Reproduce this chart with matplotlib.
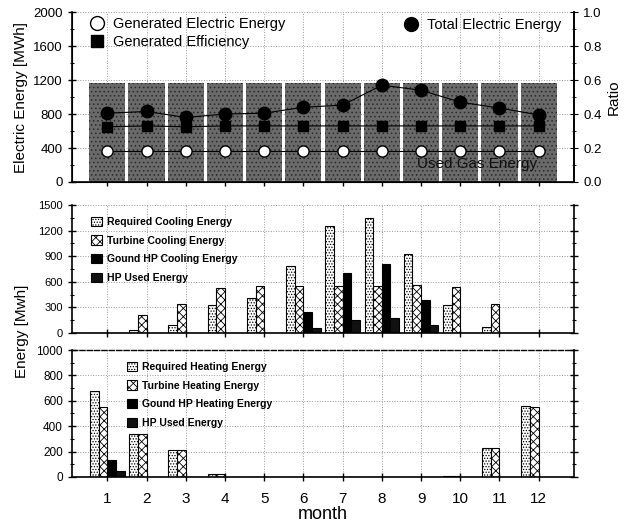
import numpy as np
import matplotlib
matplotlib.use("Agg")
import matplotlib.pyplot as plt
from matplotlib.ticker import MultipleLocator
from matplotlib.lines import Line2D

plt.rcParams["font.family"] = ["Liberation Sans", "DejaVu Sans"]
plt.rcParams["hatch.linewidth"] = 0.6

# Data
months = np.arange(1, 13)
month_labels = [str(m) for m in months]

used_gas = [1160, 1160, 1160, 1160, 1160, 1160, 1160, 1160, 1160, 1160, 1160, 1160]
gen_elec = [365, 365, 365, 365, 365, 365, 365, 365, 365, 365, 365, 365]
gen_eff = [0.325, 0.33, 0.325, 0.33, 0.33, 0.33, 0.33, 0.33, 0.33, 0.33, 0.33, 0.33]
total_elec = [810, 830, 760, 800, 810, 880, 905, 1140, 1080, 940, 870, 790]

req_cool = [5, 30, 90, 330, 410, 790, 1250, 1350, 930, 330, 70, 5]
turb_cool = [5, 210, 345, 530, 550, 550, 550, 550, 560, 540, 345, 5]
ghp_cool = [0, 0, 0, 0, 0, 250, 700, 810, 390, 0, 0, 0]
hp_cool = [0, 0, 0, 0, 0, 60, 150, 180, 90, 0, 0, 0]

req_heat = [680, 335, 210, 25, 0, 0, 0, 0, 0, 5, 230, 560]
turb_heat = [555, 335, 210, 25, 0, 0, 0, 0, 0, 5, 230, 555]
ghp_heat = [130, 0, 0, 0, 0, 0, 0, 0, 0, 0, 0, 0]
hp_heat = [50, 0, 0, 0, 0, 0, 0, 0, 0, 0, 0, 0]

fig = plt.figure(figsize=(6.41, 5.26), dpi=100)
ax1 = fig.add_axes([0.1123, 0.654, 0.7832, 0.323])
ax2 = fig.add_axes([0.1123, 0.367, 0.7832, 0.2433])
ax3 = fig.add_axes([0.1123, 0.0932, 0.7832, 0.2414])


def style_axis(ax, ymax, major, minor):
    ax.set_xlim(0.1, 12.9)
    ax.set_ylim(0, ymax)
    ax.set_xticks(months)
    ax.yaxis.set_major_locator(MultipleLocator(major))
    ax.yaxis.set_minor_locator(MultipleLocator(minor))
    ax.tick_params(axis="both", which="major", direction="inout", length=6, width=1)
    ax.tick_params(axis="y", which="minor", direction="inout", length=3, width=0.8)
    ax.tick_params(axis="y", right=True, which="both")
    ax.grid(True, which="major", linestyle=":", color="#9a9a9a", linewidth=0.7)
    ax.spines["top"].set_visible(False)
    for s in ["left", "right", "bottom"]:
        ax.spines[s].set_linewidth(1.2)
    ax.set_axisbelow(True)


# Top panel
style_axis(ax1, 2000, 400, 200)
ax1.tick_params(axis="x", labelbottom=False)
ax1.tick_params(axis="y", labelsize=9.5, right=False)
ax1.bar(months, used_gas, width=0.92, color="#6a6a6a", edgecolor="#2a2a2a",
        hatch="....", linewidth=0, zorder=2)
ax1.plot(months, total_elec, "-", color="black", linewidth=0.8,
         marker="o", markersize=9, markerfacecolor="black", zorder=4)
ax1.plot(months, gen_elec, "-", color="black", linewidth=0.8,
         marker="o", markersize=8, markerfacecolor="white",
         markeredgecolor="black", zorder=4)
ax1.set_ylabel("Electric Energy [MWh]", fontsize=11)
ax1.text(11.95, 215, "Used Gas Energy", ha="right", va="center",
         fontsize=11, color="#111111", zorder=5)

ax1r = ax1.twinx()
ax1r.set_ylim(0, 1.0)
ax1r.set_xlim(0.1, 12.9)
ax1r.yaxis.set_major_locator(MultipleLocator(0.2))
ax1r.yaxis.set_minor_locator(MultipleLocator(0.1))
ax1r.yaxis.set_major_formatter(plt.FormatStrFormatter("%.1f"))
ax1r.tick_params(axis="y", which="major", direction="inout", length=6, labelsize=9.5)
ax1r.tick_params(axis="y", which="minor", direction="inout", length=3)
ax1r.spines["top"].set_visible(False)
ax1r.spines["right"].set_linewidth(1.2)
ax1r.plot(months, gen_eff, "-", color="black", linewidth=0.8,
          marker="s", markersize=7.5, zorder=4)
ax1r.set_ylabel("Ratio", fontsize=11)

h_open = Line2D([], [], marker="o", linestyle="none", markersize=10,
                markerfacecolor="white", markeredgecolor="black")
h_sq = Line2D([], [], marker="s", linestyle="none", markersize=9, color="black")
h_fill = Line2D([], [], marker="o", linestyle="none", markersize=10, color="black")
leg1 = ax1r.legend([h_open, h_sq], ["Generated Electric Energy", "Generated Efficiency"],
                   loc="upper left", bbox_to_anchor=(0.0, 1.03), frameon=False,
                   fontsize=10.5, handletextpad=0.1, labelspacing=0.25,
                   borderaxespad=0.3)
ax1r.add_artist(leg1)
ax1r.legend([h_fill], ["Total Electric Energy"], loc="upper right",
            bbox_to_anchor=(1.0, 1.04), frameon=False, fontsize=10.5,
            handletextpad=0.1)

# Middle panel (cooling)
bw = 0.22
offs = [-1.5 * bw, -0.5 * bw, 0.5 * bw, 1.5 * bw]
style_axis(ax2, 1500, 300, 150)
ax2.tick_params(axis="x", labelbottom=False)
ax2.tick_params(axis="y", labelsize=8)
ax2.bar(months + offs[0], req_cool, width=bw, color="white", edgecolor="black",
        hatch="......", linewidth=0.8, label="Required Cooling Energy", zorder=2)
ax2.bar(months + offs[1], turb_cool, width=bw, color="white", edgecolor="black",
        hatch="xxxx", linewidth=0.8, label="Turbine Cooling Energy", zorder=2)
ax2.bar(months + offs[2], ghp_cool, width=bw, color="black", edgecolor="black",
        linewidth=0.8, label="Gound HP Cooling Energy", zorder=2)
ax2.bar(months + offs[3], hp_cool, width=bw, color="#111111", edgecolor="black",
        linewidth=0.8, label="HP Used Energy", zorder=2)
ax2.legend(loc="upper left", bbox_to_anchor=(0.02, 0.98), frameon=False,
           prop={"size": 7.5, "weight": "bold"}, handlelength=1.0,
           handleheight=1.0, handletextpad=0.5, labelspacing=0.8)

# Bottom panel (heating)
style_axis(ax3, 1000, 200, 100)
ax3.tick_params(axis="y", labelsize=8.5)
ax3.tick_params(axis="x", labelsize=11, pad=8)
ax3.set_xticklabels(month_labels)
ax3.spines["top"].set_visible(True)
ax3.spines["top"].set_linestyle("--")
ax3.spines["top"].set_linewidth(1.0)
ax3.bar(months + offs[0], req_heat, width=bw, color="white", edgecolor="black",
        hatch="......", linewidth=0.8, label="Required Heating Energy", zorder=2)
ax3.bar(months + offs[1], turb_heat, width=bw, color="white", edgecolor="black",
        hatch="xxxx", linewidth=0.8, label="Turbine Heating Energy", zorder=2)
ax3.bar(months + offs[2], ghp_heat, width=bw, color="black", edgecolor="black",
        linewidth=0.8, label="Gound HP Heating Energy", zorder=2)
ax3.bar(months + offs[3], hp_heat, width=bw, color="#111111", edgecolor="black",
        linewidth=0.8, label="HP Used Energy", zorder=2)
ax3.legend(loc="upper left", bbox_to_anchor=(0.09, 0.98), frameon=False,
           prop={"size": 7.5, "weight": "bold"}, handlelength=1.0,
           handleheight=1.0, handletextpad=0.5, labelspacing=0.8)
ax3.set_xlabel("month", fontsize=13, labelpad=0)

fig.text(0.035, 0.37, "Energy [Mwh]", rotation=90, ha="center", va="center",
         fontsize=11)

fig.savefig("out.png", dpi=100)
